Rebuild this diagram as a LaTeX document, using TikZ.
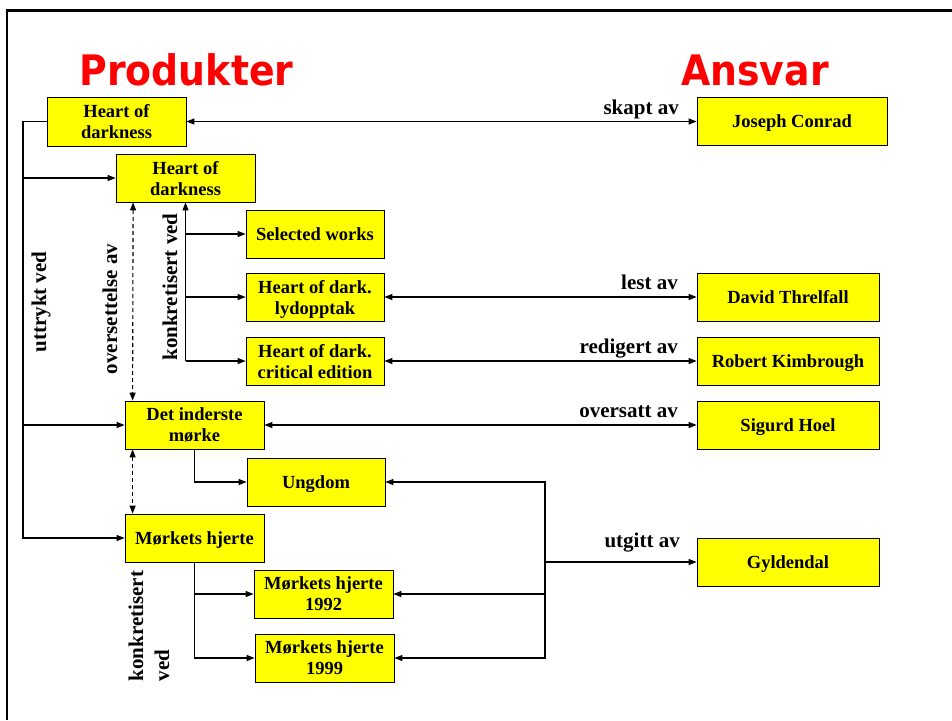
\documentclass[tikz,border=0pt]{standalone}
\usepackage{fontspec}
\usepackage{graphicx}
\setmainfont{Liberation Serif}
\newfontfamily\titlefont{DejaVu Sans}
\usetikzlibrary{arrows.meta}
\definecolor{boxyellow}{RGB}{255,255,0}
\definecolor{titlered}{RGB}{255,0,0}
\begin{document}
\begin{tikzpicture}[x=1pt,y=-1pt,
  box/.style={draw=black,fill=boxyellow,line width=0.8pt,inner sep=0pt,align=center,
    minimum height=48pt,text depth=0pt,font=\fontsize{18.5}{21}\selectfont\bfseries},
  lbl/.style={font=\fontsize{21}{26}\selectfont\bfseries,inner sep=0pt},
  ttl/.style={font=\titlefont\fontsize{42}{42}\selectfont\bfseries,text=titlered,anchor=base,inner sep=0pt},
  conn/.style={line width=1.1pt,-{Triangle[length=8pt,width=6pt]}},
  conntwo/.style={line width=1.1pt,{Triangle[length=8pt,width=6pt]}-{Triangle[length=8pt,width=6pt]}},
  dashconn/.style={conntwo,dash pattern=on 4pt off 3pt}
]
\useasboundingbox (0,0) rectangle (952,720);
\fill[white] (0,0) rectangle (952,720);
\draw[line width=2.6pt] (7,720) -- (7,10.5) -- (952,10.5);

% titles
\node[ttl] (tprod) at (186.5,85) {\scalebox{0.9}[1]{Produkter}};
\node[ttl] (tansv) at (755,85) {\scalebox{0.9}[1]{Ansvar}};

% product boxes
\node[box,minimum width=139pt,minimum height=49pt] (hod1) at (116.5,121.5) {Heart of\\darkness};
\node[box,minimum width=139pt] (hod2) at (185.5,178) {Heart of\\darkness};
\node[box,minimum width=138pt] (sel) at (315,234) {Selected works};
\node[box,minimum width=138pt] (lyd) at (315,297) {Heart of dark.\\lydopptak};
\node[box,minimum width=138pt] (crit) at (315,361) {Heart of dark.\\critical edition};
\node[box,minimum width=139pt] (det) at (194.5,425) {Det inderste\\mørke};
\node[box,minimum width=138pt] (ung) at (316,482) {Ungdom};
\node[box,minimum width=139pt] (mh) at (194.5,538) {Mørkets hjerte};
\node[box,minimum width=139pt] (mh92) at (323.5,594) {Mørkets hjerte\\1992};
\node[box,minimum width=139pt] (mh99) at (324.5,658) {Mørkets hjerte\\1999};

% responsibility boxes
\node[box,minimum width=190pt] (jc) at (792,121.5) {Joseph Conrad};
\node[box,minimum width=182pt] (dt) at (788,297) {David Threlfall};
\node[box,minimum width=182pt] (rk) at (788,361) {Robert Kimbrough};
\node[box,minimum width=182pt] (sh) at (788,425) {Sigurd Hoel};
\node[box,minimum width=182pt] (gy) at (788,562) {Gyldendal};

% uttrykt ved
\coordinate (u0) at (23,121.5);
\coordinate (u1) at (23,538);
\draw[conn] (hod1.west) -- (u0) -- (u1) -- (mh.west);
\draw[conn] (u0 |- hod2.west) -- (hod2.west);
\draw[conn] (u0 |- det.west) -- (det.west);
\node[lbl,rotate=90] (lut) at (41,302) {uttrykt ved};

% oversettelse av (dashed)
\draw[dashconn] ([xshift=17.5pt]hod2.south west) -- ([xshift=8pt]det.north west);
\draw[dashconn] ([xshift=8pt]det.south west) -- ([xshift=8pt]mh.north west);
\node[lbl,rotate=90] (lov) at (110,309) {oversettelse av};

% konkretisert ved (top)
\coordinate (k0) at (185.5,361);
\draw[conn] (k0) -- (hod2.south);
\draw[conn] (k0) -- (crit.west);
\draw[conn] (hod2.south |- sel.west) -- (sel.west);
\draw[conn] (hod2.south |- lyd.west) -- (lyd.west);
\node[lbl,rotate=90] (lk1) at (170,287) {konkretisert ved};

% det inderste -> ungdom ; mørkets hjerte -> editions
\draw[conn] (det.south) |- (ung.west);
\draw[conn] (mh.south) |- (mh92.west);
\draw[conn] (mh.south) |- (mh99.west);
\node[lbl,rotate=90,align=left] (lk2) at (149,626) {konkretisert\\ved};

% responsibility connectors
\draw[conntwo] (hod1.east) -- (jc.west);
\node[lbl,anchor=base east] (lskapt) at (679,114) {skapt av};
\draw[conntwo] (lyd.east) -- (dt.west);
\node[lbl,anchor=base east] (llest) at (678,289.5) {lest av};
\draw[conntwo] (crit.east) -- (rk.west);
\node[lbl,anchor=base east] (lred) at (678,353.5) {redigert av};
\draw[conntwo] (det.east) -- (sh.west);
\node[lbl,anchor=base east] (lover) at (678,417.5) {oversatt av};

% utgitt av
\coordinate (g0) at (545,562);
\draw[conn] (g0) -- (gy.west);
\draw[conn] (g0) |- (ung.east);
\draw[conn] (g0) |- (mh92.east);
\draw[conn] (g0) |- (mh99.east);
\node[lbl,anchor=base east] (lutg) at (680,547.5) {utgitt av};
\end{tikzpicture}
\end{document}
